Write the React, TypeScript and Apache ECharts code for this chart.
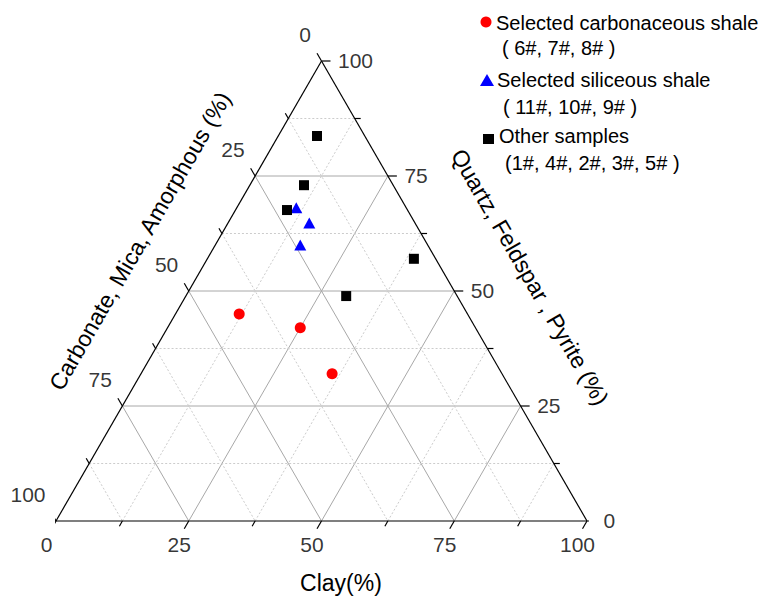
import React, { useEffect, useRef } from "react";
import * as echarts from "echarts";

// Ternary axes (percent)
const majorTicks = [0, 25, 50, 75, 100];
const minorTicks = [12.5, 37.5, 62.5, 87.5];
const tickLabels = ["0", "25", "50", "75", "100"];

// Samples: [Clay %, Quartz-Feldspar-Pyrite %, Carbonate-Mica-Amorphous %]
const carbonaceous = [
  [12, 45, 43],
  [25, 42, 33],
  [36, 32, 32],
];
const siliceous = [
  [11.2, 68.1, 20.7],
  [15.3, 64.8, 19.9],
  [16, 60, 24],
];
const others = [
  [7.3, 83.7, 9.0],
  [10.2, 73, 16.8],
  [9.7, 67.6, 22.7],
  [38.9, 57, 4.1],
  [30.2, 48.9, 20.9],
];

const legendNames = [
  ["Selected carbonaceous shale", "( 6#, 7#, 8# )"],
  ["Selected siliceous shale", "( 11#, 10#, 9# )"],
  ["Other samples", "(1#, 4#, 2#, 3#, 5# )"],
];
const axisTitles = {
  clay: "Clay(%)",
  left: "Carbonate, Mica, Amorphous (%)",
  right: "Quartz, Feldspar , Pyrite (%)",
};

const S = Math.sqrt(3) / 2;
const FONT = "'Liberation Sans', Arial, sans-serif";

// ternary (clay, quartz) -> cartesian
const toXY = (clay: number, quartz: number): [number, number] => [
  clay / 100 + quartz / 200,
  (quartz / 100) * S,
];

function seg(a: number[], b: number[], lineStyle: any, z = 1) {
  return {
    type: "line",
    data: [a, b],
    symbol: "none",
    showSymbol: false,
    silent: true,
    clip: false,
    z,
    lineStyle,
  };
}

export default function App() {
  const ref = useRef<HTMLDivElement>(null);
  useEffect(() => {
    if (!ref.current) return;
    const chart = echarts.init(ref.current, undefined, { renderer: "svg" });
    const series: any[] = [];
    const majorStyle = { color: "#a8a8a8", width: 1, type: "solid" };
    const minorStyle = { color: "#cccccc", width: 1, type: [2, 2] };
    const edgeStyle = { color: "#000", width: 1.2 };

    const gridVals = [
      ...majorTicks.filter((v) => v > 0 && v < 100).map((v) => [v, majorStyle]),
      ...minorTicks.map((v) => [v, minorStyle]),
    ] as [number, any][];
    gridVals.forEach(([v, st]) => {
      // constant quartz (horizontal)
      series.push(seg(toXY(0, v), toXY(100 - v, v), st));
      // constant clay
      series.push(seg(toXY(v, 0), toXY(v, 100 - v), st));
      // constant carbonate
      series.push(seg(toXY(0, 100 - v), toXY(100 - v, 0), st));
    });
    // triangle edges
    series.push(seg(toXY(0, 0), toXY(100, 0), edgeStyle, 3));
    series.push(seg(toXY(100, 0), toXY(0, 100), edgeStyle, 3));
    series.push(seg(toXY(0, 100), toXY(0, 0), edgeStyle, 3));

    // ticks
    const pxUnit = 1 / 531;
    const allTicks = [
      ...majorTicks.map((v) => [v, 9]),
      ...minorTicks.map((v) => [v, 6]),
    ];
    allTicks.forEach(([v, len]) => {
      const t = len * pxUnit;
      const pb = toXY(v, 0);
      series.push(seg(pb, [pb[0] - 0.5 * t, pb[1] - S * t], edgeStyle, 3));
      const pl = toXY(0, 100 - v);
      series.push(seg(pl, [pl[0] - 0.5 * t, pl[1] + S * t], edgeStyle, 3));
      const pr = toXY(100 - v, v);
      series.push(seg(pr, [pr[0] + t, pr[1]], edgeStyle, 3));
    });

    const labelBase = {
      show: true,
      position: [0, 0],
      color: "#000",
      fontSize: 21,
      fontFamily: FONT,
      verticalAlign: "middle",
    };
    const labelSeries = (data: any[], label: any) => ({
      type: "scatter",
      symbolSize: 1,
      itemStyle: { color: "rgba(0,0,0,0)" },
      silent: true,
      clip: false,
      z: 4,
      data,
      label: { ...labelBase, ...label, formatter: (p: any) => p.data.name },
    });
    series.push(
      labelSeries(
        majorTicks.map((v, i) => ({ value: toXY(v, 0), name: tickLabels[i] })),
        { align: "center", offset: [-9, 24] }
      )
    );
    series.push(
      labelSeries(
        majorTicks.map((v, i) => ({ value: toXY(0, 100 - v), name: tickLabels[i] })),
        { align: "right", offset: [-10, -26] }
      )
    );
    series.push(
      labelSeries(
        majorTicks.map((v, i) => ({ value: toXY(100 - v, v), name: tickLabels[i] })),
        { align: "left", offset: [17, 0] }
      )
    );

    // sample points
    series.push({
      type: "scatter",
      name: legendNames[0][0],
      symbol: "circle",
      symbolSize: 11,
      itemStyle: { color: "#ff0000", opacity: 1 },
      clip: false,
      z: 5,
      data: carbonaceous.map((d) => toXY(d[0], d[1])),
    });
    series.push({
      type: "scatter",
      name: legendNames[1][0],
      symbol: "triangle",
      symbolSize: [12, 11],
      itemStyle: { color: "#0000ff", opacity: 1 },
      clip: false,
      z: 5,
      data: siliceous.map((d) => toXY(d[0], d[1])),
    });
    series.push({
      type: "scatter",
      name: legendNames[2][0],
      symbol: "rect",
      symbolSize: 10,
      itemStyle: { color: "#000000", opacity: 1 },
      clip: false,
      z: 5,
      data: others.map((d) => toXY(d[0], d[1])),
    });

    const txt = (x: number, y: number, text: string, size = 20, align = "left") => ({
      type: "text",
      x,
      y,
      z: 10,
      style: {
        text,
        fill: "#000",
        font: `${size}px ${FONT}`,
        align,
        verticalAlign: "middle",
      },
    });

    chart.setOption({
      animation: false,
      backgroundColor: "#ffffff",
      grid: { left: 56, right: 179, top: 61, bottom: 80 },
      xAxis: { type: "value", min: 0, max: 1, show: false },
      yAxis: { type: "value", min: 0, max: S, show: false },
      series,
      graphic: [
        // legend
        { type: "circle", shape: { cx: 486, cy: 22, r: 5.5 }, style: { fill: "#ff0000" } },
        txt(496, 23, legendNames[0][0]),
        txt(502, 48, legendNames[0][1]),
        {
          type: "polygon",
          shape: { points: [[480, 86], [494, 86], [487, 74]] },
          style: { fill: "#0000ff" },
        },
        txt(497, 80, legendNames[1][0]),
        txt(503, 107, legendNames[1][1]),
        { type: "rect", shape: { x: 483, y: 134, width: 11, height: 10 }, style: { fill: "#000" } },
        txt(499, 136, legendNames[2][0]),
        txt(505, 163, legendNames[2][1]),
        // axis titles
        txt(341, 583, axisTitles.clay, 23, "center"),
        { ...txt(140, 241, axisTitles.left, 23, "center"), rotation: Math.PI / 3 },
        { ...txt(530, 277, axisTitles.right, 23, "center"), rotation: -Math.PI / 3 },
      ],
    });
    return () => chart.dispose();
  }, []);
  return (
    <div
      ref={ref}
      style={{ position: "fixed", left: 0, top: 0, width: 766, height: 601, background: "#fff" }}
    />
  );
}
